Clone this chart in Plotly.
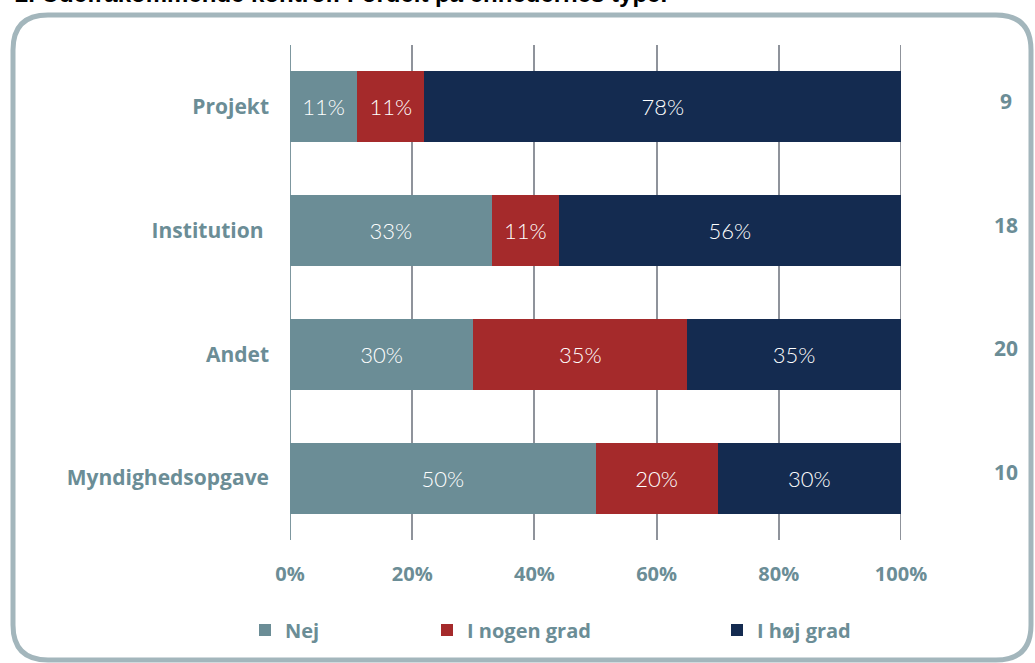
import plotly.graph_objects as go

categories = ["Projekt", "Institution", "Andet", "Myndighedsopgave"]
category_labels = ["Projekt", "Institution\u00a0", "Andet", "Myndighedsopgave"]
nej = [11, 33, 30, 50]
i_nogen_grad = [11, 11, 35, 20]
i_hoej_grad = [78, 56, 35, 30]
counts = [9, 18, 20, 10]
series_names = ["Nej", "I nogen grad", "I høj grad"]
tick_vals = [0, 20, 40, 60, 80, 100]
tick_text = ["0%", "20%", "40%", "60%", "80%", "100%"]
title_text = "2. Udefrakommende kontrol: Fordelt på enhedernes type."

W, H = 1035, 663
def px(x):
    return x / W
def py(y):
    return 1 - y / H

TEAL = "#6b8d96"
RED = "#a52a2b"
NAVY = "#142b50"
GRID = "#8f939b"
FONT_B = "Open Sans"
FONT_L = "Lato"

fig = go.Figure()
colors = [TEAL, RED, NAVY]
series = [nej, i_nogen_grad, i_hoej_grad]
legends = ["legend", "legend2", "legend3"]
for name, vals, col, lg in zip(series_names, series, colors, legends):
    fig.add_trace(go.Bar(
        y=categories, x=vals, name=name, orientation="h",
        marker=dict(color=col, line=dict(width=0)),
        text=[f"{v}%" for v in vals], textposition="inside", insidetextanchor="middle",
        textangle=0, constraintext="none",
        textfont=dict(color="white", size=22, family=FONT_L, weight=300),
        legend=lg, hoverinfo="x+y",
    ))

for cat, c in zip(categories, counts):
    fig.add_annotation(x=px(1006), xref="paper", y=cat, yref="y", yshift=6,
                       text=str(c), showarrow=False, xanchor="center",
                       font=dict(family=FONT_B, size=21, color=TEAL, weight="bold"))

fig.add_annotation(x=px(13), xref="paper", y=py(9), yref="paper", yanchor="bottom",
                   xanchor="left", text=title_text, showarrow=False,
                   font=dict(family="Liberation Sans", size=24, color="black", weight="bold"))

# gridlines at the axis ends (0% and 100%)
for v, col in ((tick_vals[0], "#7d979f"), (tick_vals[-1], GRID)):
    fig.add_shape(type="line", xref="x", yref="y domain", x0=v, x1=v, y0=0, y1=1,
                  line=dict(color=col, width=2), layer="below")

# rounded border
x0, x1, y0, y1, r = 13, 1031, 15, 660, 35
rx, ry = r / W, r / H
X0, X1, Y0, Y1 = px(x0), px(x1), py(y0), py(y1)
path = (f"M{X0+rx},{Y0} L{X1-rx},{Y0} Q{X1},{Y0} {X1},{Y0-ry} "
        f"L{X1},{Y1+ry} Q{X1},{Y1} {X1-rx},{Y1} L{X0+rx},{Y1} "
        f"Q{X0},{Y1} {X0},{Y1+ry} L{X0},{Y0-ry} Q{X0},{Y0} {X0+rx},{Y0} Z")
fig.add_shape(type="path", path=path, xref="paper", yref="paper",
              line=dict(color="#a3b6bc", width=5), fillcolor="rgba(0,0,0,0)", layer="below")

leg_common = dict(orientation="h", yanchor="middle", xanchor="left",
                  font=dict(family=FONT_B, size=20, color=TEAL, weight="bold"),
                  bgcolor="rgba(0,0,0,0)", borderwidth=0, itemclick=False)

fig.update_layout(
    width=W, height=H, autosize=False,
    margin=dict(l=0, r=0, t=0, b=0, pad=0, autoexpand=False),
    paper_bgcolor="white", plot_bgcolor="white",
    barmode="stack", bargap=0.426,
    showlegend=True,
    legend=dict(x=px(245), y=py(630), **leg_common),
    legend2=dict(x=px(427), y=py(630), **leg_common),
    legend3=dict(x=px(717), y=py(630), **leg_common),
    xaxis=dict(domain=[px(290), px(901)], range=[0, 100], tickvals=tick_vals,
               ticktext=tick_text, showgrid=True, gridcolor=GRID, gridwidth=2,
               zeroline=False, showline=False, ticks="", ticklabelstandoff=20,
               automargin=False,
               tickfont=dict(family=FONT_B, size=20, color=TEAL, weight="bold"),
               fixedrange=True),
    yaxis=dict(domain=[py(540), py(45)], categoryorder="array", categoryarray=categories,
               tickvals=categories, ticktext=category_labels,
               range=[3.5, -0.5], showgrid=False, zeroline=False, showline=False,
               ticks="", ticklabelstandoff=20, automargin=False,
               tickfont=dict(family=FONT_B, size=21, color=TEAL, weight="bold"),
               fixedrange=True),
)

post = ("document.body.style.margin='0';"
        "document.body.style.overflow='hidden';")
fig.write_html("out.html", config={"responsive": False, "displayModeBar": False},
               post_script=post)
